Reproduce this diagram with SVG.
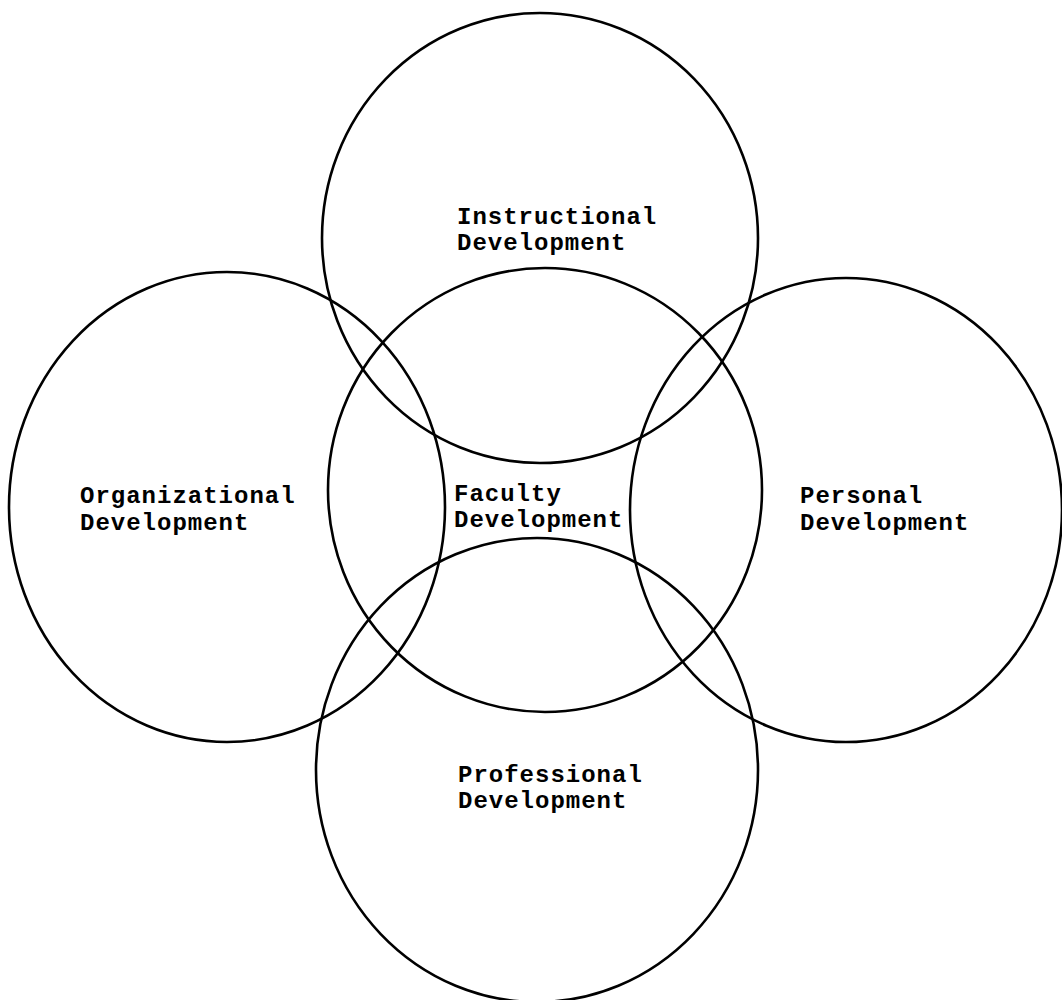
<svg xmlns="http://www.w3.org/2000/svg" width="1062" height="1000" viewBox="0 0 1062 1000">
<style>
.c{fill:none;stroke:#000;stroke-width:2.6}
.t{font-family:"Liberation Mono","DejaVu Sans Mono",monospace;font-weight:bold;font-size:24px;letter-spacing:1px;fill:#000}
</style>
<rect width="1062" height="1000" fill="#fff"/>
<g id="instructional"><ellipse class="c" cx="540" cy="238" rx="218" ry="225"/><text class="t" x="457" y="224">Instructional</text><text class="t" x="457" y="250">Development</text></g>
<g id="faculty"><ellipse class="c" cx="545" cy="490" rx="217" ry="222"/><text class="t" x="454" y="501">Faculty</text><text class="t" x="454" y="527">Development</text></g>
<g id="organizational"><ellipse class="c" cx="227" cy="507" rx="218" ry="235"/><text class="t" x="80" y="503">Organizational</text><text class="t" x="80" y="530">Development</text></g>
<g id="personal"><ellipse class="c" cx="846" cy="510" rx="216" ry="232"/><text class="t" x="800" y="503">Personal</text><text class="t" x="800" y="530">Development</text></g>
<g id="professional"><ellipse class="c" cx="537" cy="770" rx="221" ry="232"/><text class="t" x="458" y="782">Professional</text><text class="t" x="458" y="808">Development</text></g>
<g id="connectors"></g>
</svg>
